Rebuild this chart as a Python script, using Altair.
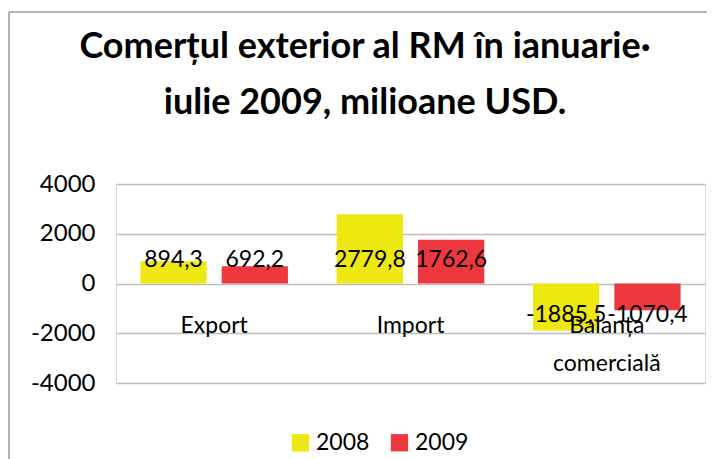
import altair as alt
import pandas as pd

title_lines = ["Comerțul exterior al RM în ianuarie·", "iulie 2009, milioane USD."]
categories = ["Export", "Import", "Balanța\ncomercială"]
years = ["2008", "2009"]
values_2008 = [894.3, 2779.8, -1885.5]
values_2009 = [692.2, 1762.6, -1070.4]
labels_2008 = ["894,3", "2779,8", "-1885,5"]
labels_2009 = ["692,2", "1762,6", "-1070,4"]
y_ticks = [-4000, -2000, 0, 2000, 4000]

rows = []
for c, v, l in zip(categories, values_2008, labels_2008):
    rows.append({"cat": c, "year": "2008", "value": v, "label": l})
for c, v, l in zip(categories, values_2009, labels_2009):
    rows.append({"cat": c, "year": "2009", "value": v, "label": l})
df = pd.DataFrame(rows)
cat_df = pd.DataFrame({"cat": categories})
one = pd.DataFrame({"a": [0]})

FONT = "Lato"
YELLOW = "#EDE810"
RED = "#EE3840"

x_enc = alt.X("cat:N", sort=categories, axis=None,
              scale=alt.Scale(paddingInner=0, paddingOuter=0))
xoff = alt.XOffset("year:N", sort=years,
                   scale=alt.Scale(paddingInner=0.185, paddingOuter=0.3))
y_scale = alt.Scale(domain=[-4000, 4000], nice=False)

bars = alt.Chart(df).mark_bar().encode(
    x=x_enc,
    xOffset=xoff,
    y=alt.Y("value:Q", scale=y_scale, title=None,
            axis=alt.Axis(values=y_ticks, labelExpr="'' + datum.value",
                          domain=False, ticks=False, labelPadding=21,
                          labelFontSize=24, labelFont=FONT, labelColor="#000",
                          gridColor="#BDBDBD", gridWidth=1.5)),
    color=alt.Color("year:N", sort=years,
                    scale=alt.Scale(domain=years, range=[YELLOW, RED]),
                    legend=alt.Legend(title=None, orient="none", direction="horizontal",
                                      legendX=173, legendY=247,
                                      symbolType="square", symbolSize=300,
                                      symbolStrokeWidth=0, symbolOpacity=1,
                                      labelFontSize=23, labelFont=FONT,
                                      labelColor="#000", labelOffset=4,
                                      columnPadding=18)),
)

pos_labels = alt.Chart(df).transform_filter("datum.value >= 0").mark_text(
    baseline="alphabetic", dy=-17, fontSize=23, font=FONT, color="#000"
).encode(x=x_enc, xOffset=xoff, y=alt.datum(0, scale=y_scale), text="label:N")

neg_labels = alt.Chart(df).transform_filter("datum.value < 0").mark_text(
    baseline="alphabetic", dy=38, fontSize=23, font=FONT, color="#000"
).encode(x=x_enc, xOffset=xoff, y=alt.datum(0, scale=y_scale), text="label:N")

cat_labels = alt.Chart(cat_df).mark_text(
    baseline="alphabetic", dy=49, fontSize=23, font=FONT, color="#000",
    lineBreak="\n", lineHeight=38
).encode(x=x_enc, y=alt.datum(0, scale=y_scale), text="cat:N")

frame_left = alt.Chart(one).mark_rule(color="#9A9A9A", strokeWidth=1.5).encode(
    x=alt.value(-107), y=alt.value(-172), y2=alt.value(300))
frame_top = alt.Chart(one).mark_rule(color="#9A9A9A", strokeWidth=1.5).encode(
    x=alt.value(-107), x2=alt.value(600), y=alt.value(-172))

title1 = alt.Chart(one).mark_text(
    font=FONT, fontSize=36, fontWeight="bold", color="#000", baseline="middle", align="center"
).encode(x=alt.value(249), y=alt.value(-137), text=alt.value(title_lines[0]))
title2 = alt.Chart(one).mark_text(
    font=FONT, fontSize=36, fontWeight="bold", color="#000", baseline="middle", align="center"
).encode(x=alt.value(249), y=alt.value(-81), text=alt.value(title_lines[1]))

chart = alt.layer(frame_left, frame_top, bars, pos_labels, neg_labels, cat_labels,
                  title1, title2).properties(
    width=589, height=199,
    padding={"left": 108, "top": 176, "right": 2, "bottom": 80},
    autosize=alt.AutoSizeParams(type="none"),
).configure_view(stroke=None).configure(background="white")

chart.save("out.html", embed_options={"renderer": "svg", "actions": False})
